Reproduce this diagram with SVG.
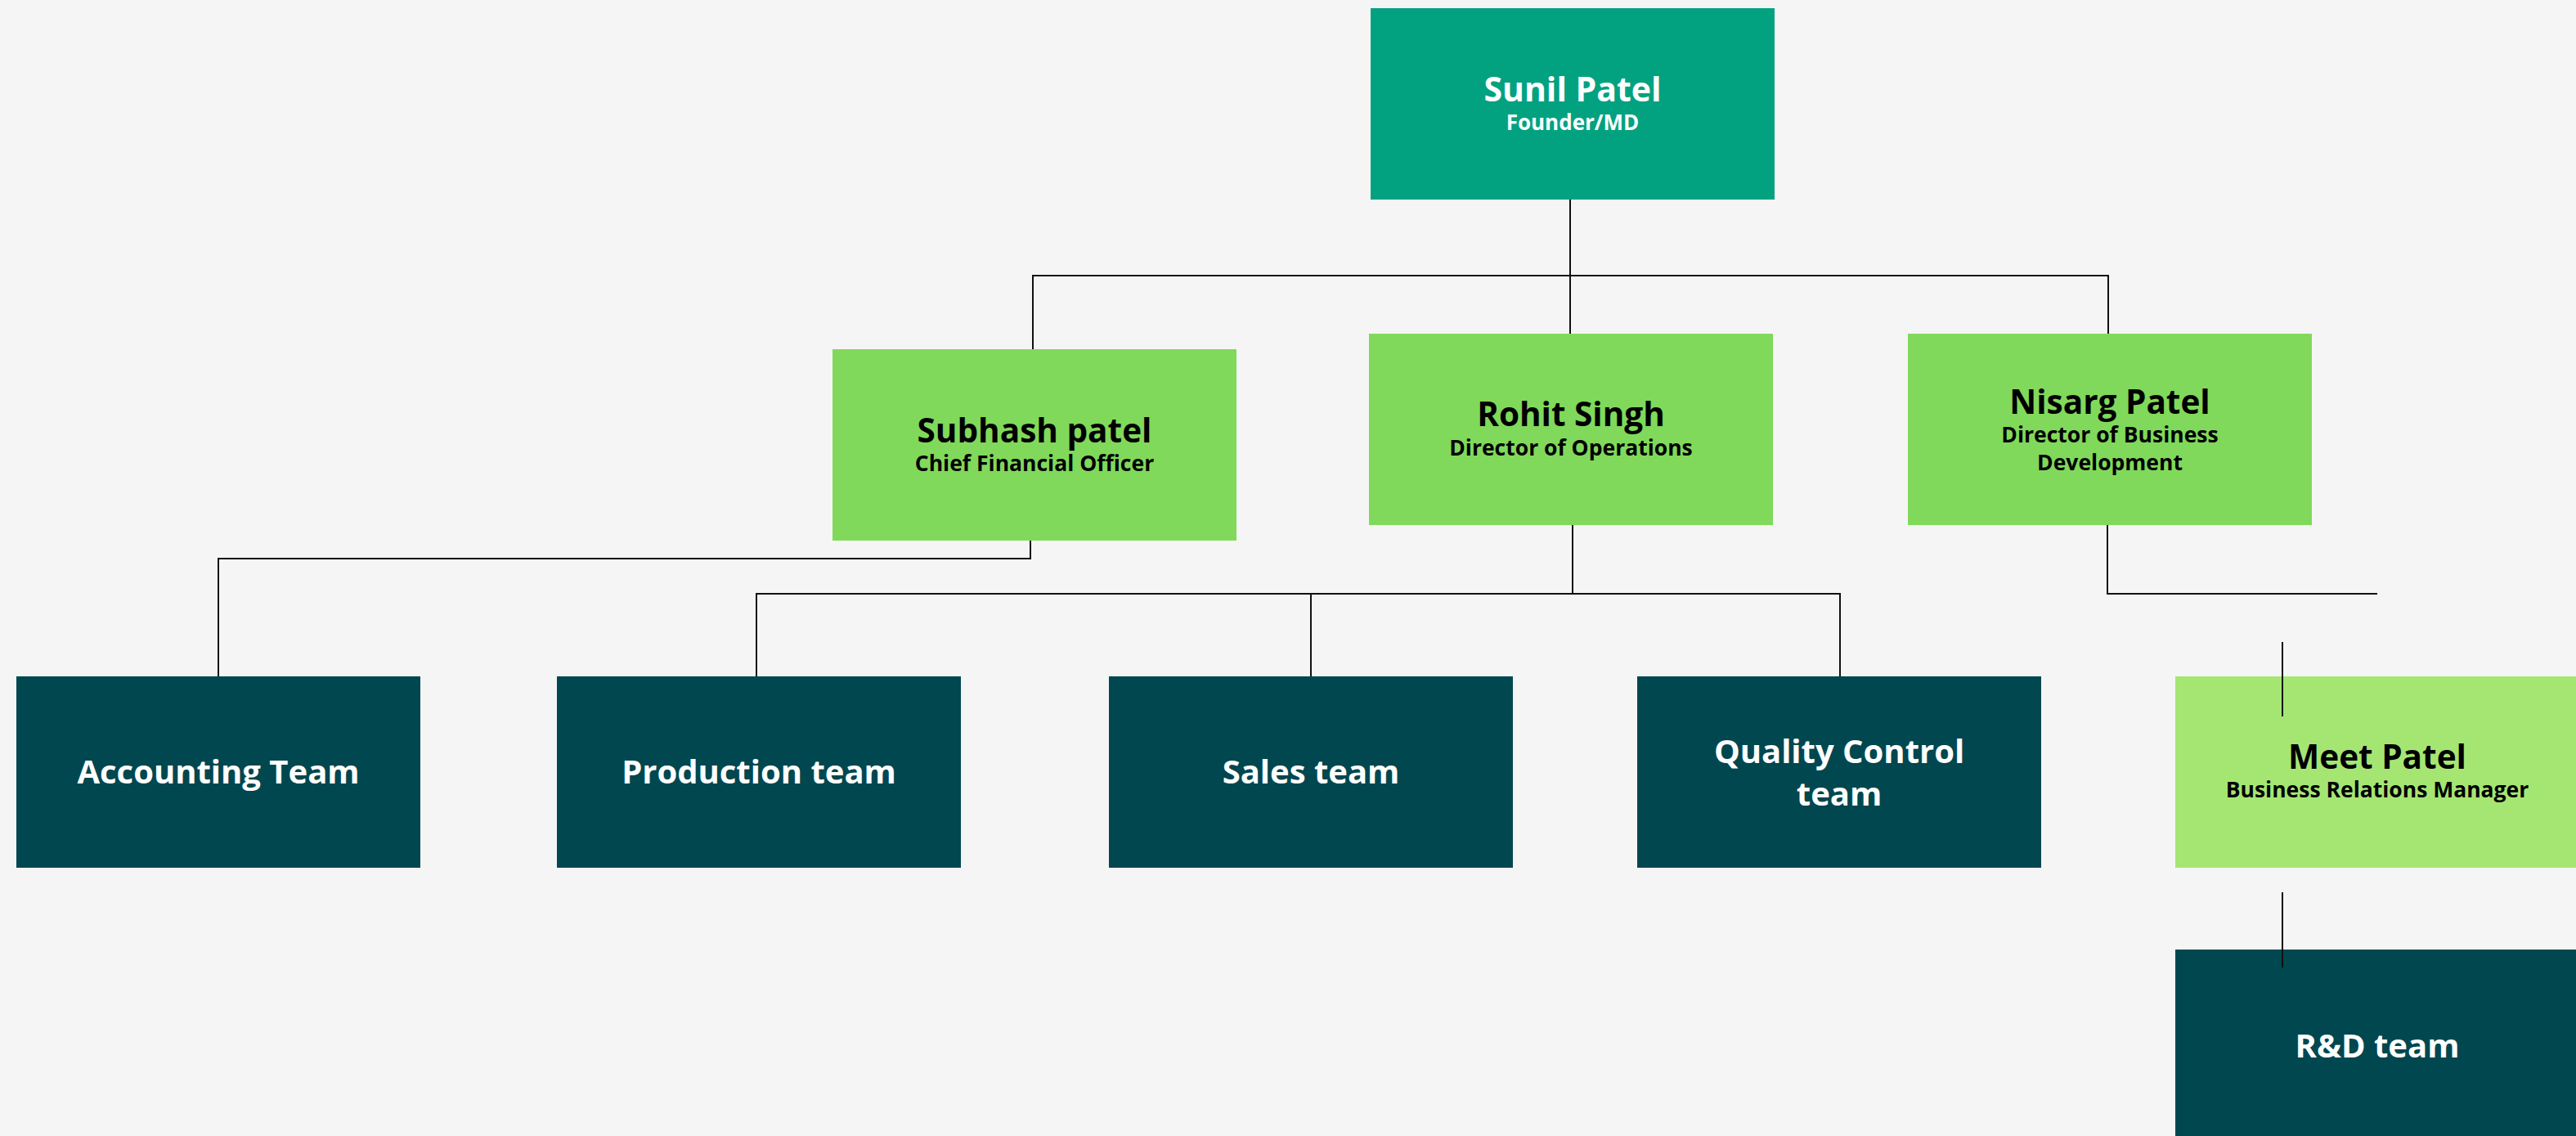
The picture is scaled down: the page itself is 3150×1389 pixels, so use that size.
<svg xmlns="http://www.w3.org/2000/svg" width="3150" height="1389" viewBox="0 0 3150 1389">
<style>
.bg{fill:#F5F5F5}
.top{fill:#02A281}
.dir{fill:#80D95A}
.mgr{fill:#A5E673}
.team{fill:#004750}
text{font-family:"Open Sans","Noto Sans","DejaVu Sans",sans-serif;text-anchor:middle;font-weight:700}
.nm{font-size:40.5px;fill:#000}
.tt{font-size:26.5px;fill:#000}
.nmw{font-size:41px;fill:#fff}
.ttw{font-size:26px;fill:#fff}
.tm{font-size:40px;fill:#fff}
.ln{fill:none;stroke:#111;stroke-width:2}
</style>
<rect class="bg" x="0" y="0" width="3150" height="1389"/>
<g id="sunil"><rect class="top" x="1676" y="10" width="494" height="234"/><text class="nmw" x="1923" y="124">Sunil Patel</text><text class="ttw" x="1923" y="159">Founder/MD</text></g>
<g id="subhash"><rect class="dir" x="1018" y="427" width="494" height="234"/><text class="nm" x="1265" y="541">Subhash patel</text><text class="tt" x="1265" y="576">Chief Financial Officer</text></g>
<g id="rohit"><rect class="dir" x="1674" y="408" width="494" height="234"/><text class="nm" x="1921" y="521">Rohit Singh</text><text class="tt" x="1921" y="557">Director of Operations</text></g>
<g id="nisarg"><rect class="dir" x="2333" y="408" width="494" height="234"/><text class="nm" x="2580" y="506">Nisarg Patel</text><text class="tt" x="2580" y="541">Director of Business</text><text class="tt" x="2580" y="575">Development</text></g>
<g id="accounting"><rect class="team" x="20" y="827" width="494" height="234"/><text class="tm" x="267" y="958">Accounting Team</text></g>
<g id="production"><rect class="team" x="681" y="827" width="494" height="234"/><text class="tm" x="928" y="958">Production team</text></g>
<g id="sales"><rect class="team" x="1356" y="827" width="494" height="234"/><text class="tm" x="1603" y="958">Sales team</text></g>
<g id="quality"><rect class="team" x="2002" y="827" width="494" height="234"/><text class="tm" x="2249" y="933">Quality Control</text><text class="tm" x="2249" y="985">team</text></g>
<g id="meet"><rect class="mgr" x="2660" y="827" width="494" height="234"/><text class="nm" x="2907" y="940">Meet Patel</text><text class="tt" x="2907" y="975">Business Relations Manager</text></g>
<g id="rnd"><rect class="team" x="2660" y="1161" width="494" height="234"/><text class="tm" x="2907" y="1293">R&amp;D team</text></g>
<g id="connectors">
<path class="ln" d="M1920 244V408"/>
<path class="ln" d="M1263 427V337H2578V408"/>
<path class="ln" d="M1260 661V683H267V827"/>
<path class="ln" d="M1923 642V726H925V827"/>
<path class="ln" d="M1603 726V827"/>
<path class="ln" d="M1923 726H2250V827"/>
<path class="ln" d="M2577 642V726H2907"/>
<path class="ln" d="M2791 785V876"/>
<path class="ln" d="M2791 1091V1183"/>
</g>
</svg>
